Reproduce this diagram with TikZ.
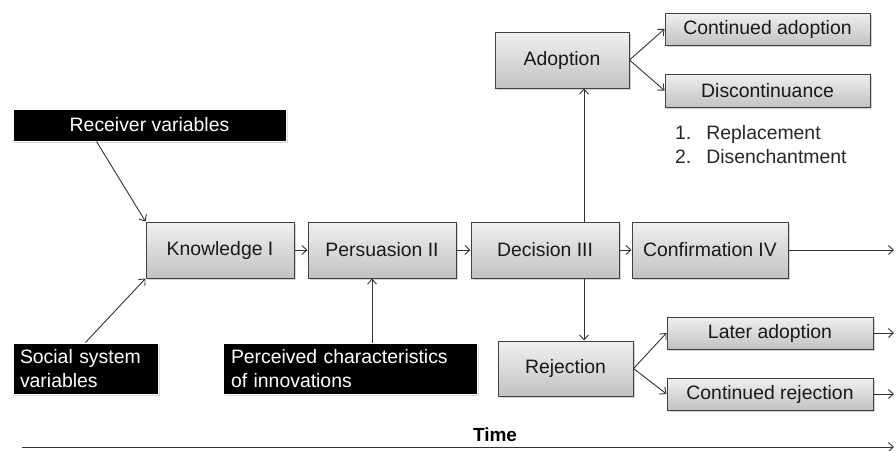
\documentclass[tikz,border=0pt]{standalone}
\usepackage{fontspec}
\setmainfont{Liberation Sans}
\usetikzlibrary{arrows.meta,shadows}

\definecolor{boxtop}{RGB}{240,240,240}
\definecolor{boxbot}{RGB}{194,194,194}
\definecolor{boxline}{RGB}{64,64,64}
\definecolor{linkcol}{RGB}{50,50,50}

\tikzset{
  stage/.style={draw=boxline, line width=1pt, top color=boxtop, bottom color=boxbot,
    text=black!90, font=\fontsize{19.4}{23}\selectfont, inner sep=0pt,
    drop shadow={shadow xshift=1.5pt, shadow yshift=-1.5pt, opacity=0.35}},
  varbox/.style={fill=black, draw=white, line width=1pt, text=white,
    font=\fontsize{19.4}{24.5}\selectfont, inner sep=0pt,
    drop shadow={shadow xshift=1.5pt, shadow yshift=-1.5pt, opacity=0.3}},
  link/.style={draw=linkcol, line width=0.9pt, -{Straight Barb[length=5pt,width=9pt]}},
}

\begin{document}
\begin{tikzpicture}[x=1pt, y=-1pt]
\useasboundingbox (0,0) rectangle (896,450);

% main stages
\node[stage, minimum width=148pt, minimum height=56pt] (know) at (220,250) {Knowledge I};
\node[stage, minimum width=148pt, minimum height=56pt] (pers) at (382,250) {Persuasion II};
\node[stage, minimum width=148pt, minimum height=56pt] (dec)  at (545,250) {Decision III};
\node[stage, minimum width=156pt, minimum height=56pt] (conf) at (710,250) {Confirmation IV};

% outcomes of the decision
\node[stage, minimum width=134pt, minimum height=56pt] (adopt) at (562,60) {Adoption};
\node[stage, minimum width=135pt, minimum height=55pt] (rej) at (565.5,368.5) {Rejection};
\node[stage, minimum width=205pt, minimum height=32pt] (contad) at (767.5,29) {Continued adoption};
\node[stage, minimum width=205pt, minimum height=33pt] (discont) at (767.5,90.5) {Discontinuance};
\node[stage, minimum width=206pt, minimum height=32pt] (later) at (770,333) {Later adoption};
\node[stage, minimum width=206pt, minimum height=32pt] (contrej) at (770,394) {Continued rejection};

% reasons for discontinuance
\node[anchor=north west, inner sep=0pt, font=\fontsize{19.4}{24}\selectfont, text=black!85] (reasons) at (675,122)
  {\begin{tabular}{@{}l@{\hspace{15pt}}l@{}}1. & Replacement\\ 2. & Disenchantment\end{tabular}};

% antecedent variables
\node[varbox, minimum width=273pt, minimum height=32pt] (recv) at (149.5,125) {Receiver variables};
\node[varbox, minimum width=145pt, minimum height=51pt, text width=131pt, align=left] (social) at (85.5,368.5)
  {Social system\\variables};
\node[varbox, minimum width=254pt, minimum height=51pt, text width=238pt, align=left] (perc) at (350,368.5)
  {Perceived characteristics\\of innovations};

% time axis
\node[font=\fontsize{19}{22}\selectfont\bfseries, inner sep=0pt] (timelbl) at (495,435) {Time};
\coordinate (tstart) at (22,447);
\coordinate (tend) at (894,447);

% connectors
\draw[link] ([xshift=84pt]recv.south west) -- (know.north west);
\draw[link] (social.north) -- (know.south west);
\coordinate (pin) at ([xshift=-10pt]pers.south);
\draw[link] (perc.north -| pin) -- (pin);
\draw[link] (know) -- (pers);
\draw[link] (pers) -- (dec);
\draw[link] (dec) -- (conf);
\coordinate (confout) at (894,250);
\draw[link] (conf) -- (confout);

\coordinate (dtop) at ([xshift=39pt]dec.north);
\coordinate (dbot) at ([xshift=39pt]dec.south);
\draw[link] (dtop) -- (adopt.south -| dtop);
\draw[link] (dbot) -- (rej.north -| dbot);

\draw[link] (adopt.east) -- (contad.west);
\draw[link] (adopt.east) -- (discont.west);
\draw[link] (rej.east) -- (later.west);
\draw[link] (rej.east) -- (contrej.west);

\coordinate (laterout) at (894,333);
\coordinate (contrejout) at (894,394);
\draw[link] (later) -- (laterout);
\draw[link] (contrej) -- (contrejout);

\draw[link] (tstart) -- (tend);
\end{tikzpicture}
\end{document}
